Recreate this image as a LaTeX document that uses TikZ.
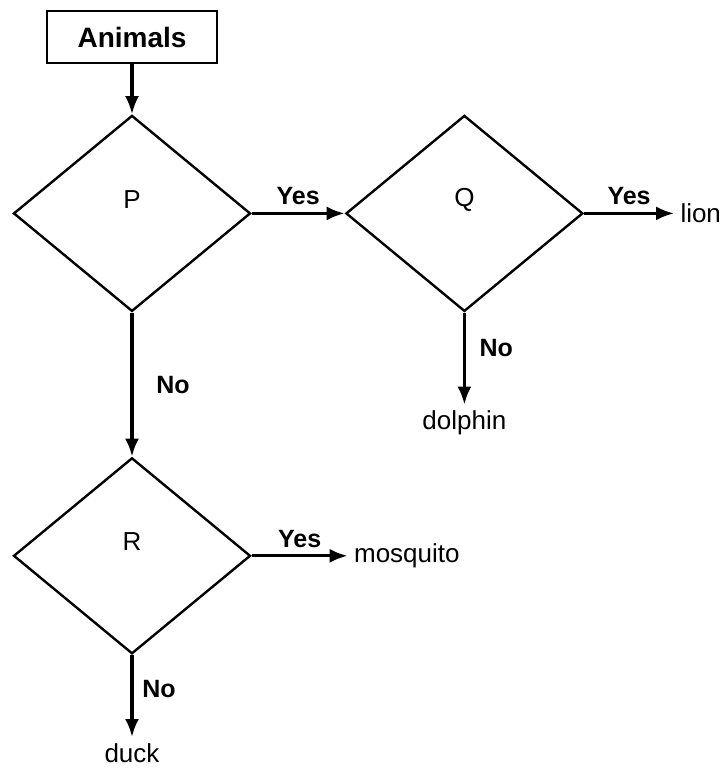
\documentclass[tikz,border=0pt]{standalone}
\usepackage{fontspec}
\setmainfont{Liberation Sans}
\usetikzlibrary{arrows.meta,positioning,shapes.geometric}

\begin{document}
\begin{tikzpicture}[x=0.5pt, y=-0.5pt, >={Latex[length=9pt,width=7pt]},
  startbox/.style={draw, line width=1.2pt, minimum width=85pt, minimum height=26pt,
    inner sep=0pt, font=\fontsize{14}{16}\selectfont\bfseries},
  decision/.style={draw, diamond, line width=1.2pt, minimum width=118.5pt,
    minimum height=98pt, inner sep=0pt},
  letter/.style={yshift=7pt, font=\fontsize{13}{15}\selectfont},
  leaf/.style={inner sep=3pt, font=\fontsize{13}{15}\selectfont},
  answer/.style={font=\fontsize{12.5}{14}\selectfont\bfseries},
  flow/.style={->, line width=1.6pt}]
\useasboundingbox (0,0) rectangle (726,768);
\node[startbox] (animals) at (132,37) {Animals};
\node[decision, below=25pt of animals, label={[letter]center:P}] (p) {};
\node[decision, right=46.5pt of p, label={[letter]center:Q}] (q) {};
\node[decision, below=72pt of p, label={[letter]center:R}] (r) {};
\node[leaf, right=45pt of q] (lion) {lion};
\node[leaf, below=46pt of q] (dolphin) {dolphin};
\node[leaf, right=48pt of r] (mosquito) {mosquito};
\node[leaf, below=41pt of r] (duck) {duck};
\draw[flow] (animals) -- (p);
\draw[flow] (p) -- node[answer, above] {Yes} (q);
\draw[flow] (p) -- node[answer, right=8pt] {No} (r);
\draw[flow] (q) -- node[answer, above] {Yes} (lion);
\draw[flow] (q) -- node[answer, right=3.5pt, pos=0.39] {No} (dolphin);
\draw[flow] (r) -- node[answer, above] {Yes} (mosquito);
\draw[flow] (r) -- node[answer, right=1pt, pos=0.41] {No} (duck);
\end{tikzpicture}
\end{document}
